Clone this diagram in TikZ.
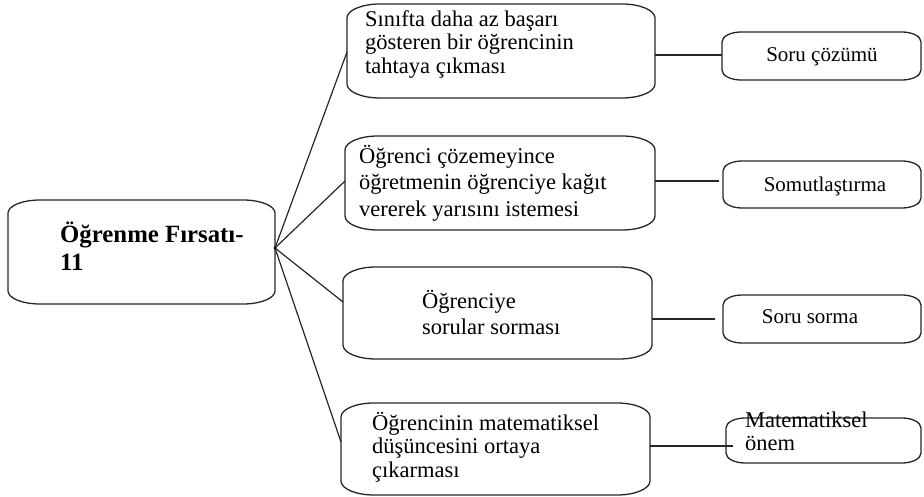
\documentclass[tikz,border=0pt]{standalone}
\usepackage{fontspec}
\setmainfont{Liberation Serif}

% outline of a box with elliptical corners: node name, x radius, y radius
\newcommand\ovalframe[3]{%
  \draw[outline] ([xshift=#2]#1.north west) -- ([xshift=-#2]#1.north east)
    arc[start angle=90,end angle=0,x radius=#2,y radius=#3]
    -- ([yshift=#3]#1.south east)
    arc[start angle=0,end angle=-90,x radius=#2,y radius=#3]
    -- ([xshift=#2]#1.south west)
    arc[start angle=270,end angle=180,x radius=#2,y radius=#3]
    -- ([yshift=-#3]#1.north west)
    arc[start angle=180,end angle=90,x radius=#2,y radius=#3] -- cycle;}
\newcommand\firstline{\rule{0pt}{20pt}}

\begin{document}
\begin{tikzpicture}[x=1pt,y=-1pt,
  outline/.style={draw=black!85, line width=1.3pt},
  frame/.style={draw=none, inner sep=0pt, outer sep=0pt},
  link/.style={draw=black!85, line width=1.2pt},
  body/.style={inner sep=0pt, anchor=north west, align=left,
    font=\fontsize{22.5}{23.5}\selectfont},
  widebody/.style={body, font=\fontsize{22.5}{26.5}\selectfont},
  label/.style={inner sep=0pt, anchor=base, font=\fontsize{21}{24}\selectfont},
  title/.style={inner sep=0pt, anchor=north west, align=left,
    font=\fontsize{24.8}{28}\selectfont\bfseries}]
\useasboundingbox (0,0) rectangle (924,497);

% frames
\node[frame, minimum width=267pt, minimum height=104pt] (main) at (141.5,252) {};
\node[frame, minimum width=308pt, minimum height=94pt] (b1) at (501,51) {};
\node[frame, minimum width=310pt, minimum height=94pt] (b2) at (500,183) {};
\node[frame, minimum width=309pt, minimum height=92pt] (b3) at (497.5,313) {};
\node[frame, minimum width=309pt, minimum height=92pt] (b4) at (495.5,449) {};
\node[frame, minimum width=199pt, minimum height=48pt] (r1) at (821.5,56) {};
\node[frame, minimum width=198pt, minimum height=47pt] (r2) at (822,184.5) {};
\node[frame, minimum width=198pt, minimum height=48pt] (r3) at (822,319) {};
\node[frame, minimum width=195pt, minimum height=45pt] (r4) at (823.5,440.5) {};

\ovalframe{main}{32pt}{13pt}
\ovalframe{b1}{33pt}{14pt}
\ovalframe{b2}{33pt}{14pt}
\ovalframe{b3}{33pt}{14pt}
\ovalframe{b4}{33pt}{14pt}
\ovalframe{r1}{19pt}{10pt}
\ovalframe{r2}{19pt}{10pt}
\ovalframe{r3}{19pt}{10pt}
\ovalframe{r4}{19pt}{10pt}

% texts
\node[title] (tmain) at (60,222) {\rule{0pt}{20pt}Öğrenme Fırsatı-\\11};
\node[body] (t1) at (365,6) {\firstline Sınıfta daha az başarı\\gösteren bir öğrencinin\\tahtaya çıkması};
\node[widebody] (t2) at (359,143) {\firstline Öğrenci çözemeyince\\öğretmenin öğrenciye kağıt\\vererek yarısını istemesi};
\node[widebody] (t3) at (422,288) {\firstline Öğrenciye\\sorular sorması};
\node[body] (t4) at (372,410) {\firstline Öğrencinin matematiksel\\düşüncesini ortaya\\çıkarması};
\node[label] (s1) at (822,62) {Soru çözümü};
\node[label] (s2) at (825,192) {Somutlaştırma};
\node[label] (s3) at (810,323) {Soru sorma};
\node[body] (s4) at (745,407) {\firstline Matematiksel\\önem};

% connectors from the hub
\coordinate (hub) at ([yshift=4pt]main.east);
\draw[link] (hub) -- ([yshift=-1pt]b1.west);
\draw[link] (hub) -- ([yshift=2pt]b2.west);
\draw[link] (hub) -- ([yshift=11pt]b3.west);
\draw[link] (hub) -- ([yshift=7pt]b4.west);
\fill (hub) circle (1.6pt);

% connectors to the right-hand boxes
\coordinate (e1) at ([yshift=-4pt]b1.east);
\coordinate (e2) at ([yshift=2pt]b2.east);
\coordinate (e3) at ([yshift=-6pt]b3.east);
\coordinate (e4) at ([yshift=3pt]b4.east);
\draw[link] (e1) -- (r1.west |- e1);
\draw[link] (e2) -- ([xshift=-4pt]r2.west |- e2);
\draw[link] (e3) -- ([xshift=-8pt]r3.west |- e3);
\draw[link] (e4) -- ([xshift=7pt]r4.west |- e4);
\end{tikzpicture}
\end{document}
